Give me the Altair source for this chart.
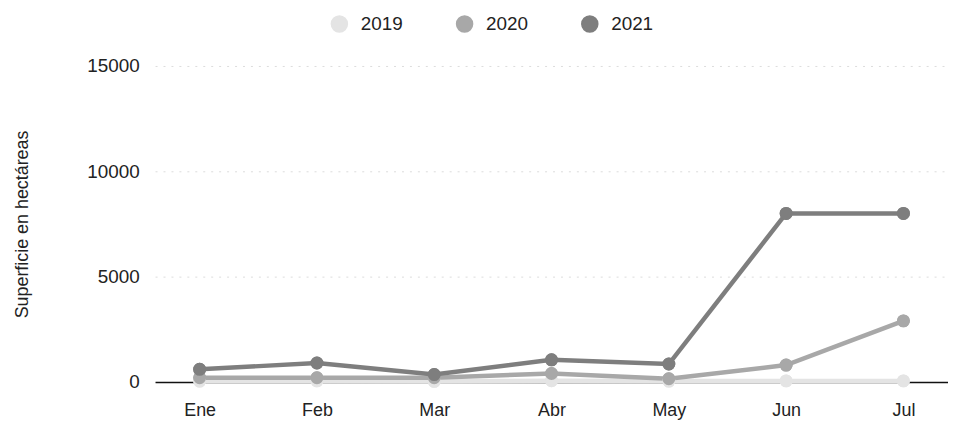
import altair as alt
import pandas as pd

months = ["Ene", "Feb", "Mar", "Abr", "May", "Jun", "Jul"]
years = ["2019", "2020", "2021"]
v2019 = [40, 50, 30, 60, 40, 50, 50]
v2020 = [200, 200, 200, 400, 150, 800, 2900]
v2021 = [600, 900, 350, 1050, 850, 8000, 8000]
colors = ["#e4e4e4", "#a8a8a8", "#7e7e7e"]

rows = []
for y, vals in zip(years, [v2019, v2020, v2021]):
    for m, v in zip(months, vals):
        rows.append({"Mes": m, "Año": y, "Superficie": v})
df = pd.DataFrame(rows)

FONT = "Liberation Sans"

x = alt.X("Mes:N", sort=months, title=None,
          scale=alt.Scale(type="point", padding=0.38),
          axis=alt.Axis(labelAngle=0, labelFontSize=18, labelPadding=20,
                        ticks=False, domainColor="#111", domainWidth=1.5,
                        labelColor="#222", labelFont=FONT))
y = alt.Y("Superficie:Q", title="Superficie en hectáreas",
          scale=alt.Scale(domain=[0, 15000]),
          axis=alt.Axis(values=[0, 5000, 10000, 15000], format="d",
                        labelFontSize=19, labelPadding=16, ticks=False,
                        domain=False, gridColor="#dcdcdc", gridDash=[2, 6],
                        titleFontSize=18, titleFontWeight="normal",
                        titlePadding=56, labelColor="#222", titleColor="#222",
                        labelFont=FONT, titleFont=FONT))
legend = alt.Legend(orient="none", direction="horizontal",
                    legendX=176, legendY=-52,
                    symbolType="circle", symbolSize=260,
                    labelFontSize=19, labelFont=FONT,
                    labelColor="#222", columnPadding=50,
                    labelOffset=12)
color = alt.Color("Año:N", scale=alt.Scale(domain=years, range=colors),
                  title=None, legend=legend)

points = alt.Chart(df).mark_point(filled=True, size=170, opacity=1).encode(
    x=x, y=y, color=color,
)
lines = alt.Chart(df).mark_line(strokeWidth=4.5).encode(
    x=x, y=y, color=color,
    order=alt.Order("Año:N"),
)

chart = alt.layer(points, lines, points).properties(
    width=798, height=318,
    padding={"left": 5, "top": 5, "right": 0, "bottom": 5},
).configure_view(stroke=None)

chart.save("out.html", embed_options={"renderer": "svg", "actions": False})
